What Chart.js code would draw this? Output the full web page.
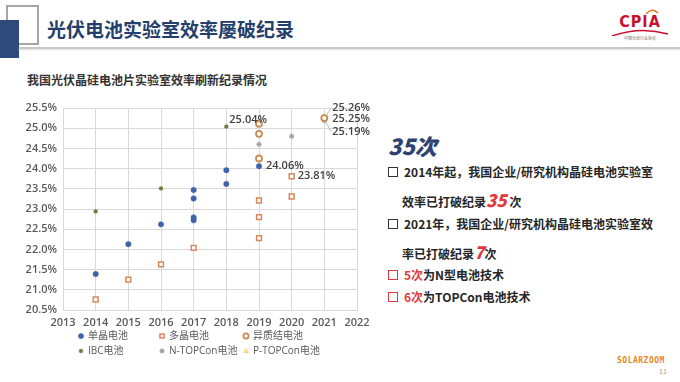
<!DOCTYPE html>
<html>
<head>
<meta charset="utf-8">
<script src="https://cdn.jsdelivr.net/npm/chart.js@4.4.1/dist/chart.umd.min.js"></script>
<style>
body{margin:0;width:680px;height:382px;background:#fff;position:relative;overflow:hidden;font-family:"Noto Sans CJK SC","Noto Sans",sans-serif;color:#262626}
.abs{position:absolute;white-space:nowrap}
.box{display:inline-block;width:8px;height:8px;border:1.6px solid #333;margin-right:6px;vertical-align:0px}
.red{color:#e0393e}
.big{font-style:italic;font-weight:900;font-size:17px}
</style>
</head>
<body>
<!-- header -->
<div class="abs" style="left:6px;top:5px;width:29px;height:36px;border:2px solid #a6a6a6"></div>
<div class="abs" style="left:0;top:20px;width:19px;height:38px;background:#2e4a7d"></div>
<div class="abs" style="left:19px;top:47px;width:661px;height:1.5px;background:#c8c8c8;box-shadow:0 1px 2px #ddd"></div>
<div class="abs" style="left:47px;top:18px;font-size:19px;line-height:22px;font-weight:700;color:#243f6b">光伏电池实验室效率屡破纪录</div>
<div class="abs" style="left:610px;top:8px;width:60px;text-align:center">
  <svg width="60" height="6" style="display:block"><path d="M36 6 Q42 -1 48 5" stroke="#e07a1f" stroke-width="1.5" fill="none"/></svg>
  <div style="font:bold 16px/15px 'Liberation Sans Narrow','DejaVu Sans Condensed',sans-serif;color:#c8102e;letter-spacing:1px">CPIA</div>
  <svg width="60" height="7" style="display:block"><path d="M2 7 Q30 -3 58 5" stroke="#c8102e" stroke-width="1.5" fill="none"/></svg>
  <div style="font-size:4px;line-height:5px;color:#666">中国光伏行业协会</div>
</div>
<div class="abs" style="left:27px;top:73px;font-size:12px;line-height:14px;font-weight:700;color:#333">我国光伏晶硅电池片实验室效率刷新纪录情况</div>

<!-- right text -->
<div class="abs" style="left:388px;top:133px;font-size:22px;line-height:24px;font-style:italic;font-weight:900;color:#2e4372">35次</div>
<div class="abs" style="left:388px;top:165px;font-size:12px;line-height:14px;font-weight:700"><span class="box"></span>2014年起，我国企业/研究机构晶硅电池实验室</div>
<div class="abs" style="left:402px;top:191px;font-size:12px;line-height:18px;font-weight:700">效率已打破纪录<span class="red big">35</span> 次</div>
<div class="abs" style="left:388px;top:217px;font-size:12px;line-height:14px;font-weight:700"><span class="box"></span>2021年，我国企业/研究机构晶硅电池实验室效</div>
<div class="abs" style="left:402px;top:243px;font-size:12px;line-height:18px;font-weight:700">率已打破纪录<span class="red big">7</span>次</div>
<div class="abs" style="left:388px;top:268px;font-size:12px;line-height:14px;font-weight:700"><span class="box" style="border-color:#e0393e"></span><span class="red">5次</span>为N型电池技术</div>
<div class="abs" style="left:388px;top:290px;font-size:12px;line-height:14px;font-weight:700"><span class="box" style="border-color:#e0393e"></span><span class="red">6次</span>为TOPCon电池技术</div>

<div class="abs" style="left:617px;top:356px;font:bold 8px/10px 'DejaVu Sans Mono',monospace;color:#e8861a;letter-spacing:0.5px">SOLARZOOM</div>
<div class="abs" style="left:659px;top:367px;font-size:7px;line-height:8px;color:#999">11</div>

<div class="abs" style="left:0;top:95px;width:380px;height:270px"><canvas id="chart" width="380" height="270"></canvas></div>

<script>
// data
const monoX = [2014, 2015, 2016, 2017, 2017, 2017, 2017, 2018, 2018, 2019];
const monoY = [21.39, 22.13, 22.62, 22.72, 22.79, 23.26, 23.47, 23.62, 23.96, 24.06];
const polyX = [2014, 2015, 2016, 2017, 2019, 2019, 2019, 2020, 2020];
const polyY = [20.76, 21.25, 21.63, 22.04, 22.28, 22.80, 23.21, 23.31, 23.81];
const hjtX = [2019, 2019, 2019, 2021];
const hjtY = [24.25, 24.86, 25.11, 25.25];
const ibcX = [2014, 2016, 2018];
const ibcY = [22.94, 23.51, 25.04];
const ntopX = [2019, 2020, 2021];
const ntopY = [24.60, 24.80, 25.19];
const ptopX = [2021];
const ptopY = [25.26];
const seriesNames = ['单晶电池', '多晶电池', '异质结电池', 'IBC电池', 'N-TOPCon电池', 'P-TOPCon电池'];
const xMin = 2013, xMax = 2022;
const yMin = 20.5, yMax = 25.5, yStep = 0.5;

// which points get a value label: [dataset, index, dx, dy, leader]
const valueLabels = [
  [3, 2, 3, -7, false],
  [0, 9, 7, 0, false],
  [1, 8, 6, 0, false],
  [5, 0, 8, -10, true],
  [2, 3, 8, 1, false],
  [4, 2, 8, 11, true]
];

const FONT = '"Open Sans","Noto Sans CJK SC",sans-serif';
const pts = (xs, ys) => xs.map((x, i) => ({x: x, y: ys[i]}));

const datasets = [
  {label: seriesNames[0], data: pts(monoX, monoY), pointStyle: 'circle', pointRadius: 2.7, backgroundColor: '#3d64a8', borderColor: '#3d64a8', borderWidth: 0.5},
  {label: seriesNames[1], data: pts(polyX, polyY), pointStyle: 'rect', pointRadius: 3.4, backgroundColor: '#fff', borderColor: '#d9875c', borderWidth: 1.5},
  {label: seriesNames[2], data: pts(hjtX, hjtY), pointStyle: 'circle', pointRadius: 3, backgroundColor: '#fff', borderColor: '#c98c50', borderWidth: 1.8},
  {label: seriesNames[3], data: pts(ibcX, ibcY), pointStyle: 'circle', pointRadius: 1.9, backgroundColor: '#66813f', borderColor: '#66813f', borderWidth: 0.5},
  {label: seriesNames[4], data: pts(ntopX, ntopY), pointStyle: 'circle', pointRadius: 2.2, backgroundColor: '#a6a6a6', borderColor: '#a6a6a6', borderWidth: 0.5},
  {label: seriesNames[5], data: pts(ptopX, ptopY), pointStyle: 'triangle', pointRadius: 3.6, backgroundColor: '#ffe699', borderColor: '#f2d377', borderWidth: 1}
];

function drawMarker(ctx, ds, x, y) {
  const r = ds.pointRadius;
  ctx.save();
  ctx.fillStyle = ds.backgroundColor;
  ctx.strokeStyle = ds.borderColor;
  ctx.lineWidth = ds.borderWidth;
  ctx.beginPath();
  if (ds.pointStyle === 'rect') {
    ctx.rect(x - r * 0.8, y - r * 0.8, r * 1.6, r * 1.6);
  } else if (ds.pointStyle === 'triangle') {
    ctx.moveTo(x, y - r);
    ctx.lineTo(x + r * 0.9, y + r * 0.6);
    ctx.lineTo(x - r * 0.9, y + r * 0.6);
    ctx.closePath();
  } else {
    ctx.arc(x, y, r, 0, Math.PI * 2);
  }
  ctx.fill();
  ctx.stroke();
  ctx.restore();
}

// legend in 3 aligned columns, two rows
const legendPlugin = {
  id: 'colLegend',
  afterDraw(chart) {
    const ctx = chart.ctx;
    const cols = [81, 162, 246], rows = [241, 256];
    ctx.save();
    ctx.font = '10px ' + FONT;
    ctx.fillStyle = '#595959';
    ctx.textBaseline = 'middle';
    chart.data.datasets.forEach((ds, i) => {
      const x = cols[i % 3], y = rows[Math.floor(i / 3)];
      drawMarker(ctx, Object.assign({}, ds, {pointRadius: Math.min(ds.pointRadius, 2.6)}), x, y);
      ctx.fillText(ds.label, x + 7, y + 0.5);
    });
    ctx.restore();
  }
};

const valueLabelPlugin = {
  id: 'valueLabels',
  afterDatasetsDraw(chart) {
    const ctx = chart.ctx;
    ctx.save();
    ctx.font = '600 11px ' + FONT;
    ctx.fillStyle = '#404040';
    ctx.textBaseline = 'middle';
    valueLabels.forEach(([d, i, dx, dy, leader]) => {
      const el = chart.getDatasetMeta(d).data[i];
      const v = chart.data.datasets[d].data[i].y;
      if (leader) {
        ctx.strokeStyle = '#a6a6a6';
        ctx.lineWidth = 0.8;
        ctx.beginPath();
        ctx.moveTo(el.x + 1, el.y + (dy > 0 ? 1 : -1));
        ctx.lineTo(el.x + dx - 1, el.y + dy);
        ctx.stroke();
      }
      ctx.fillText(v.toFixed(2) + '%', el.x + dx, el.y + dy);
    });
    ctx.restore();
  }
};

new Chart(document.getElementById('chart'), {
  type: 'scatter',
  data: {datasets: datasets},
  options: {
    responsive: false,
    animation: false,
    layout: {padding: {left: 0, right: 23, top: 13, bottom: 35}},
    plugins: {legend: {display: false}, tooltip: {enabled: false}},
    scales: {
      x: {
        type: 'linear', min: xMin, max: xMax,
        afterFit(s) { s.height = 20; },
        grid: {color: '#d9d9d9', drawTicks: false},
        border: {color: '#d9d9d9'},
        ticks: {stepSize: 1, padding: 6, color: '#595959', font: {family: FONT, size: 11, weight: '600'}, callback: v => String(v)}
      },
      y: {
        min: yMin, max: yMax,
        afterFit(s) { s.width = 63; },
        grid: {color: '#d9d9d9', drawTicks: false},
        border: {color: '#d9d9d9'},
        ticks: {stepSize: yStep, padding: 6, color: '#595959', font: {family: FONT, size: 11, weight: '600'}, callback: v => v.toFixed(1) + '%'}
      }
    }
  },
  plugins: [valueLabelPlugin, legendPlugin]
});
</script>
</body>
</html>
